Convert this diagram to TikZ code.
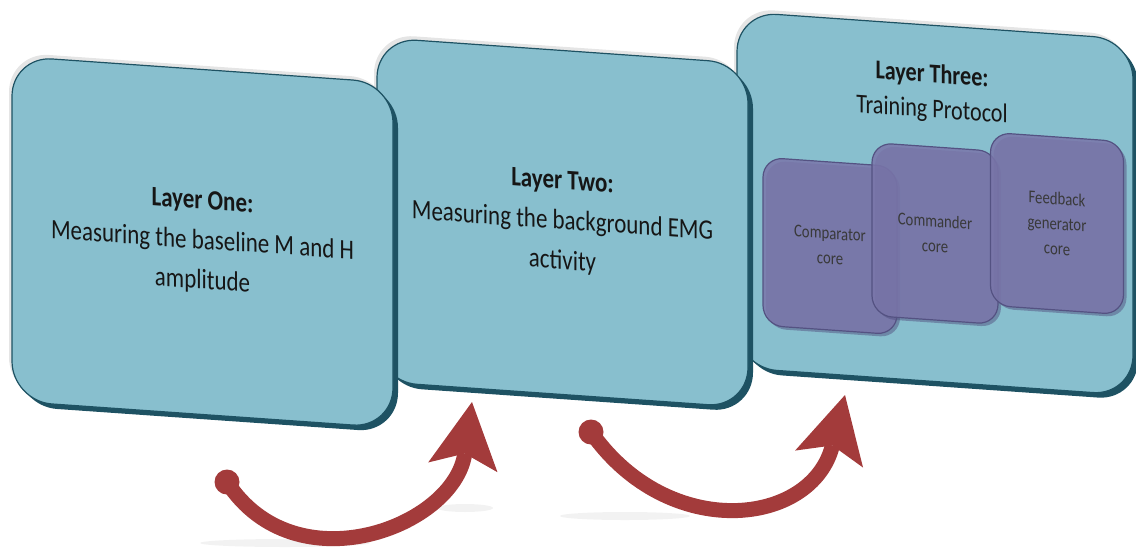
\documentclass[tikz,border=0pt]{standalone}
\usepackage{fontspec}
\setmainfont{Carlito}[FakeStretch=0.82]
\usetikzlibrary{arrows.meta,shadows}

\definecolor{layerface}{RGB}{136,191,206}
\definecolor{layeredge}{RGB}{30,82,99}
\definecolor{corefill}{RGB}{122,118,170}
\definecolor{coreedge}{RGB}{84,82,130}
\definecolor{arrowred}{RGB}{163,59,59}
\definecolor{inktext}{RGB}{22,22,22}

\tikzset{
  layerbox/.style={rectangle, rounded corners=40pt, fill=layerface, draw=layeredge,
    line width=1.2pt, yslant=-0.07, text=inktext, align=center,
    font=\fontsize{28}{40}\selectfont,
    general shadow={shadow xshift=-3pt, shadow yshift=4pt, fill=black, opacity=0.1},
    general shadow={shadow xshift=5pt, shadow yshift=-5pt, fill=layeredge, opacity=1}},
  corebox/.style={rectangle, rounded corners=20pt, fill=corefill, fill opacity=0.85,
    text opacity=1, draw=coreedge, line width=1.2pt, yslant=-0.07, text=inktext!85,
    align=center, font=\fontsize{18}{25}\selectfont,
    general shadow={shadow xshift=3pt, shadow yshift=-3pt, fill=coreedge, opacity=0.5}},
  headtext/.style={yslant=-0.07, text=inktext, align=center, font=\fontsize{27}{35}\selectfont},
  reddot/.style={circle, fill=arrowred, minimum size=25pt, inner sep=0pt},
  redarrow/.style={arrowred, line width=15pt,
    -{Stealth[length=66pt, width=70pt, inset=14pt, line width=0pt]}}
}

\begin{document}
\begin{tikzpicture}[x=1pt, y=-1pt]
\useasboundingbox (0,0) rectangle (1136,550);

% layers, back to front
\node[layerbox, minimum width=396pt, minimum height=356pt] (three) at (935,203.5) {};
\node[headtext] (head3) at (932,93) {\textbf{Layer Three:}\\Training Protocol};
\node[corebox, minimum width=134pt, minimum height=168pt] (comparator) at (830,246) {Comparator\\core};
\node[corebox, minimum width=126pt, minimum height=173pt] (commander) at (935,233.5) {Commander\\core};
\node[corebox, minimum width=133pt, minimum height=173pt] (feedback) at (1057,223.5) {Feedback\\generator\\core};

\node[layerbox, minimum width=371pt, minimum height=344pt] (two) at (562.5,222.5)
  {\textbf{Layer Two:}\\Measuring the background EMG\\activity};
\node[layerbox, minimum width=381pt, minimum height=345pt] (one) at (202.5,242)
  {\textbf{Layer One:}\\Measuring the baseline M and H\\amplitude};

% faint shadows under the arrows
\fill[black, opacity=0.05] (285,543) ellipse (85 and 4);
\fill[black, opacity=0.05] (625,516) ellipse (65 and 4);
\fill[black, opacity=0.05] (465,508) ellipse (28 and 4);

% arrows
\node[reddot] (start1) at (227,482) {};
\coordinate (tip1) at (472,402);
\draw[redarrow] (start1.center) to[out=-57, in=-98, looseness=1.25] (tip1);

\node[reddot] (start2) at (591,432) {};
\coordinate (tip2) at (845,395);
\draw[redarrow] (start2.center) to[out=-55, in=-104, looseness=1.35] (tip2);
\end{tikzpicture}
\end{document}
